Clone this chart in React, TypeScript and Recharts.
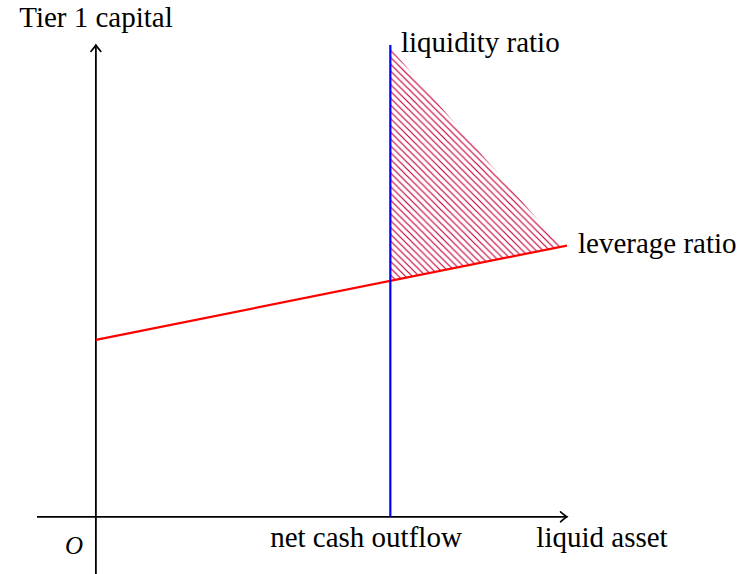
import React from 'react';
import { ComposedChart, XAxis, YAxis, Line, Area, ReferenceLine, Customized } from 'recharts';

// Leverage ratio line (Tier 1 capital vs liquid asset)
const leverageLine = [
  { x: 0, y: 3.0 },
  { x: 8, y: 4.6 },
];
// Liquidity ratio: vertical line at net cash outflow
const liquidityLine = [
  { x: 5, y: 0 },
  { x: 5, y: 8 },
];
// Hatched feasible region [lower, upper]
const hatchRegion = [
  { x: 5, range: [4.0, 7.95] },
  { x: 7.9, range: [4.58, 4.58] },
];
const xDomain = [-1, 8];
const yDomain = [-0.97, 8];

const ArrowLine = (props: any) => {
  const { x1, y1, x2, y2 } = props;
  const ang = (Math.atan2(y2 - y1, x2 - x1) * 180) / Math.PI;
  return (
    <g>
      <line x1={x1} y1={y1} x2={x2} y2={y2} stroke="#000" strokeWidth={1.8} />
      <path
        d="M -6.5 -5 Q -2 -1.2 0 0 Q -2 1.2 -6.5 5"
        transform={`translate(${x2},${y2}) rotate(${ang})`}
        fill="none"
        stroke="#000"
        strokeWidth={1.6}
        strokeLinecap="round"
      />
    </g>
  );
};

const ts: React.CSSProperties = { fontFamily: 'Liberation Serif', fontSize: 29, fill: '#000' };

const Labels = () => (
  <g>
    <text x={96} y={27} textAnchor="middle" style={ts}>Tier 1 capital</text>
    <text x={401} y={52} style={ts}>liquidity ratio</text>
    <text x={578} y={253} style={ts}>leverage ratio</text>
    <text x={366} y={547} textAnchor="middle" style={ts}>net cash outflow</text>
    <text x={602} y={547} textAnchor="middle" style={ts}>liquid asset</text>
    <text x={74} y={554} textAnchor="middle" style={{ fontFamily: 'Liberation Serif', fontStyle: 'italic', fontSize: 25, fill: '#000' }}>O</text>
  </g>
);

export default function App() {
  return (
    <div style={{ position: 'absolute', left: 0, top: 0, background: '#fff' }}>
      <ComposedChart width={749} height={574} margin={{ top: 45, right: 182, bottom: 0, left: 37 }}>
        <defs>
          <pattern id="hatch" patternUnits="userSpaceOnUse" width={6.8} height={6.8}>
            <path d="M -1 -1 L 7.8 7.8 M -1 5.8 L 1 7.8 M 5.8 -1 L 7.8 1" stroke="#c80036" strokeWidth={1.2} />
          </pattern>
        </defs>
        <XAxis type="number" dataKey="x" domain={xDomain} hide allowDataOverflow />
        <YAxis type="number" domain={yDomain} hide allowDataOverflow />
        <Area data={hatchRegion} dataKey="range" type="linear" stroke="none" fill="url(#hatch)" fillOpacity={1} isAnimationActive={false} />
        <ReferenceLine segment={[{ x: -1, y: 0 }, { x: 8, y: 0 }]} shape={ArrowLine} ifOverflow="visible" />
        <ReferenceLine segment={[{ x: 0, y: -0.97 }, { x: 0, y: 8 }]} shape={ArrowLine} ifOverflow="visible" />
        <Line data={leverageLine} dataKey="y" type="linear" stroke="#ff0000" strokeWidth={2.2} dot={false} isAnimationActive={false} />
        <Line data={liquidityLine} dataKey="y" type="linear" stroke="#0000ff" strokeWidth={2.2} dot={false} isAnimationActive={false} />
        <Customized component={Labels} />
      </ComposedChart>
    </div>
  );
}
